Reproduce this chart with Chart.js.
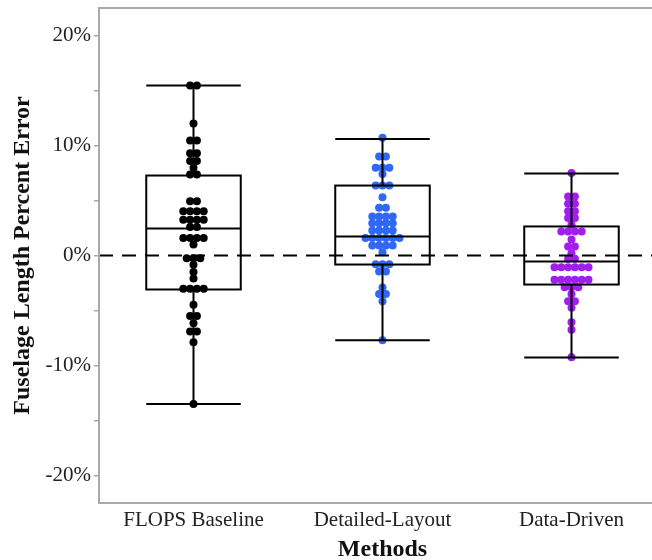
<!DOCTYPE html>
<html>
<head>
<meta charset="utf-8">
<script src="https://cdn.jsdelivr.net/npm/chart.js@4.4.1/dist/chart.umd.min.js"></script>
<style>
  html, body { margin: 0; background: #fff; overflow: hidden; }
</style>
</head>
<body>
<canvas id="grafico" width="667" height="560"></canvas>
<script>
// categorias
const metodos = ['FLOPS Baseline', 'Detailed-Layout', 'Data-Driven'];
const cores = ['#000000', '#3068f5', '#a01ef0'];

// erros individuais (%)
const errFlops = [15.45, 15.45, 12.0, 10.45, 10.45, 9.3, 9.3, 8.6, 8.6, 7.97, 7.36, 7.36,
  4.94, 4.94, 4.03, 4.03, 4.03, 4.03, 3.24, 3.24, 3.24, 3.24, 2.58, 2.58,
  1.58, 1.58, 1.58, 1.58, 1.0, -0.24, -0.24, -0.24, -0.85, -1.5, -2.1,
  -3.03, -3.03, -3.03, -3.03, -4.48, -5.5, -5.5, -6.15, -6.9, -6.9, -7.88, -13.5];
const errDetailed = [10.7, 9.0, 9.0, 7.97, 7.97, 7.97, 7.4, 6.36, 6.36, 6.36, 5.3, 4.33, 4.33,
  3.55, 3.55, 3.55, 3.55, 2.94, 2.94, 2.94, 2.94, 2.27, 2.27, 2.27, 2.27,
  1.6, 1.6, 1.6, 1.6, 1.6, 1.6, 0.9, 0.9, 0.9, 0.9, 0.3, -0.8, -0.8, -0.8,
  -1.45, -1.45, -2.9, -3.5, -3.5, -4.15, -7.7];
const errData = [7.5, 5.36, 5.36, 4.7, 4.7, 4.03, 4.03, 3.42, 3.42, 2.8, 2.18, 2.18, 2.18, 2.18,
  1.45, 0.82, 0.82, 0.2, -0.3, -0.3, -1.06, -1.06, -1.06, -1.06, -1.06, -1.06,
  -2.2, -2.2, -2.2, -2.2, -2.2, -2.2, -2.88, -2.88, -2.88, -3.5, -4.15, -4.15,
  -4.76, -6.06, -6.76, -9.24];

// resumo dos boxplots: [whisker min, Q1, mediana, Q3, whisker max]
const boxFlops = [-13.5, -3.09, 2.45, 7.27, 15.45];
const boxDetailed = [-7.7, -0.82, 1.73, 6.36, 10.6];
const boxData = [-9.27, -2.64, -0.55, 2.64, 7.45];

const yTicks = [-20, -15, -10, -5, 0, 5, 10, 15, 20];

const series = [errFlops, errDetailed, errData];
const boxes = [boxFlops, boxDetailed, boxData];

// espalha pontos iguais lado a lado (dot plot)
const PASSO = 0.036;
function espalhar(valores, centro) {
  const grupos = {};
  valores.forEach(v => { (grupos[v] = grupos[v] || []).push(v); });
  const pts = [];
  Object.values(grupos).forEach(g => {
    g.forEach((v, i) => pts.push({ x: centro + (i - (g.length - 1) / 2) * PASSO, y: v }));
  });
  return pts;
}

const FONTE = '"Liberation Serif", "Times New Roman", serif';

const boxPlugin = {
  id: 'boxes',
  afterDatasetsDraw(chart) {
    const { ctx, chartArea: a, scales: { x, y } } = chart;
    ctx.save();
    // linha tracejada em 0
    ctx.strokeStyle = '#000';
    ctx.lineWidth = 2;
    ctx.setLineDash([14, 9]);
    ctx.beginPath();
    ctx.moveTo(a.left, y.getPixelForValue(0));
    ctx.lineTo(a.right, y.getPixelForValue(0));
    ctx.stroke();
    ctx.setLineDash([]);

    boxes.forEach((b, i) => {
      const xl = x.getPixelForValue(i - 0.25), xr = x.getPixelForValue(i + 0.25), xc = x.getPixelForValue(i);
      const [lo, q1, med, q3, hi] = b.map(v => y.getPixelForValue(v));
      ctx.beginPath();
      // whiskers
      ctx.moveTo(xc, hi); ctx.lineTo(xc, q3);
      ctx.moveTo(xc, q1); ctx.lineTo(xc, lo);
      ctx.moveTo(xl, hi); ctx.lineTo(xr, hi);
      ctx.moveTo(xl, lo); ctx.lineTo(xr, lo);
      // mediana
      ctx.moveTo(xl, med); ctx.lineTo(xr, med);
      ctx.stroke();
      ctx.strokeRect(xl, q3, xr - xl, q1 - q3);
    });

    // moldura
    ctx.strokeStyle = '#a9a9a9';
    ctx.lineWidth = 2;
    ctx.strokeRect(a.left, a.top, a.right - a.left, a.bottom - a.top);
    ctx.restore();
  }
};

new Chart(document.getElementById('grafico'), {
  type: 'scatter',
  data: {
    datasets: series.map((s, i) => ({
      label: metodos[i],
      data: espalhar(s, i),
      pointRadius: 4,
      pointHoverRadius: 4,
      pointBackgroundColor: cores[i],
      pointBorderWidth: 0
    }))
  },
  options: {
    responsive: false,
    animation: false,
    layout: { autoPadding: false, padding: { top: 8, right: 1, left: 0, bottom: 0 } },
    plugins: { legend: { display: false }, tooltip: { enabled: false } },
    scales: {
      x: {
        type: 'linear',
        min: -0.5,
        max: 2.5,
        afterBuildTicks: s => { s.ticks = metodos.map((m, i) => ({ value: i })); },
        afterFit: s => { s.height = 57; s.paddingLeft = 0; s.paddingRight = 0; },
        grid: { display: false, drawTicks: false },
        border: { display: false },
        ticks: {
          callback: v => metodos[v],
          color: '#222',
          padding: 5,
          maxRotation: 0,
          font: { family: FONTE, size: 21 }
        },
        title: {
          display: true,
          text: 'Methods',
          color: '#111',
          padding: { top: 0, bottom: -4 },
          font: { family: FONTE, size: 24, weight: 'bold' }
        }
      },
      y: {
        min: -22.5,
        max: 22.5,
        afterBuildTicks: s => { s.ticks = yTicks.map(v => ({ value: v })); },
        afterFit: s => { s.width = 99; s.paddingTop = 0; s.paddingBottom = 0; },
        grid: { display: true, drawOnChartArea: false, drawTicks: true, tickLength: 5, color: '#a9a9a9', lineWidth: 1.5 },
        border: { display: false },
        ticks: {
          callback: v => (v % 10 === 0 ? v + '%' : ''),
          color: '#222',
          padding: 3,
          font: { family: FONTE, size: 21 }
        },
        title: {
          display: true,
          text: 'Fuselage Length Percent Error',
          color: '#111',
          padding: { top: 8, bottom: 0 },
          font: { family: FONTE, size: 24, weight: 'bold' }
        }
      }
    }
  },
  plugins: [boxPlugin]
});
</script>
</body>
</html>
